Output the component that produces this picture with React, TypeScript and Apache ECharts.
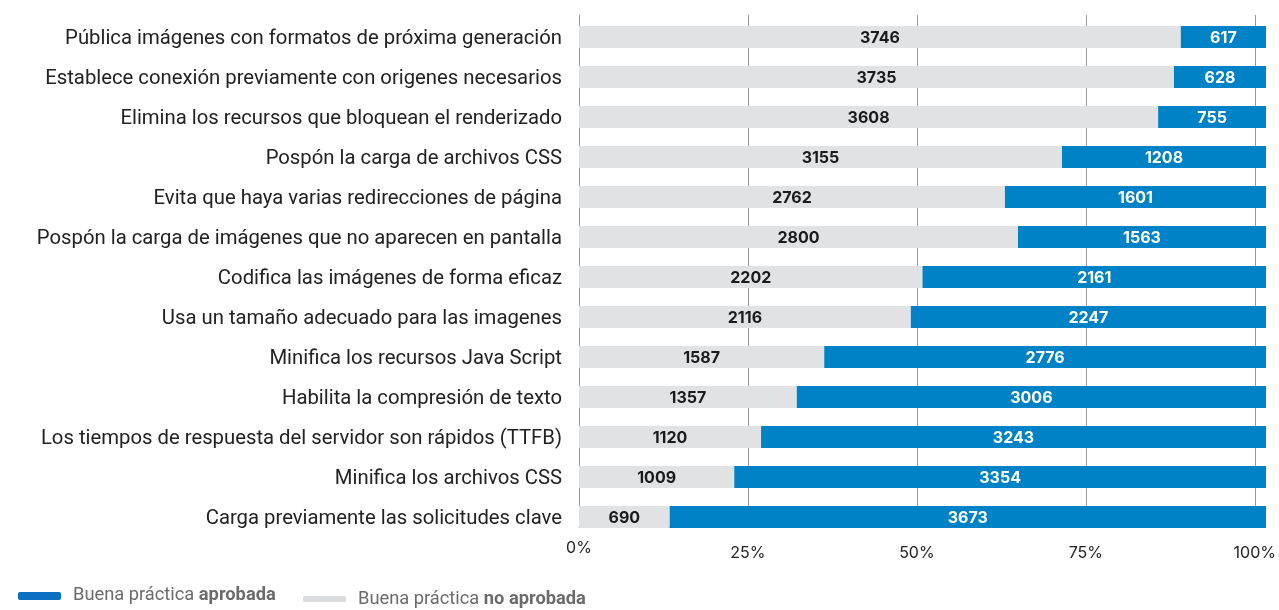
import React, { useEffect, useRef } from "react";
import * as echarts from "echarts";

const categories = [
  "Pública imágenes con formatos de próxima generación",
  "Establece conexión previamente con origenes necesarios",
  "Elimina los recursos que bloquean el renderizado",
  "Pospón la carga de archivos CSS",
  "Evita que haya varias redirecciones de página",
  "Pospón la carga de imágenes que no aparecen en pantalla",
  "Codifica las imágenes de forma eficaz",
  "Usa un tamaño adecuado para las imagenes",
  "Minifica los recursos Java Script",
  "Habilita la compresión de texto",
  "Los tiempos de respuesta del servidor son rápidos (TTFB)",
  "Minifica los archivos CSS",
  "Carga previamente las solicitudes clave",
];

// counts shown as labels
const noAprobada = [3746, 3735, 3608, 3155, 2762, 2800, 2202, 2116, 1587, 1357, 1120, 1009, 690];
const aprobada = [617, 628, 755, 1208, 1601, 1563, 2161, 2247, 2776, 3006, 3243, 3354, 3673];

// bar share (%) of "no aprobada", as drawn in the reference picture
const noAprobadaShare = [87.6, 86.6, 84.3, 70.3, 62.0, 63.9, 50.0, 48.3, 35.7, 31.7, 26.5, 22.6, 13.2];

const tickLabels = ["0%", "25%", "50%", "75%", "100%"];

const BLUE = "#0082C6";
const GREY = "#E1E2E4";
const GRID = "#9B9B9B";

export default function App() {
  const ref = useRef<HTMLDivElement>(null);

  useEffect(() => {
    if (!ref.current) return;
    const chart = echarts.init(ref.current, null, { renderer: "svg" });
    const greyData = noAprobada.map((v, i) => ({ value: noAprobadaShare[i], raw: v }));
    const blueData = aprobada.map((v, i) => ({ value: 100 - noAprobadaShare[i], raw: v }));

    const valueFont = "Inter, Lato, sans-serif";
    const textFont = "Roboto, 'Noto Sans', sans-serif";

    const valueLabel = (color: string) => ({
      show: true,
      position: "inside",
      fontFamily: valueFont,
      fontWeight: "bold",
      fontSize: 16,
      color,
      formatter: (p: any) => String(p.data.raw),
    });

    const legendRich = {
      a: { fontFamily: textFont, fontSize: 18.3, color: "#6b6b6b" },
      b: { fontFamily: textFont, fontSize: 18.3, color: "#6b6b6b", fontWeight: "bold" },
    };

    chart.setOption({
      animation: false,
      grid: [
        { left: 579, right: 13, top: 17, height: 520, containLabel: false },
        { left: 579, right: 13, top: 15, height: 512, containLabel: false },
      ],
      xAxis: [
        {
          gridIndex: 0,
          type: "value",
          min: 0,
          max: 100,
          axisLabel: { show: false },
          axisLine: { show: false },
          axisTick: { show: false },
          splitLine: { show: false },
        },
        {
          gridIndex: 1,
          type: "value",
          min: 0,
          max: 100,
          interval: 25,
          axisLine: { show: true, lineStyle: { color: GRID, width: 1 } },
          axisTick: { show: false },
          splitLine: { show: true, lineStyle: { color: GRID, width: 1 } },
          axisLabel: {
            margin: 12,
            fontFamily: valueFont,
            fontSize: 16,
            color: "#222",
            formatter: (v: number) => {
              const idx = Math.round(v / 25);
              return idx === 0 ? "{z|" + tickLabels[idx] + "}" : "{n|" + tickLabels[idx] + "}";
            },
            rich: {
              z: { fontFamily: valueFont, fontSize: 16, color: "#222" },
              n: { fontFamily: valueFont, fontSize: 16, color: "#222", padding: [5, 0, 0, 0] },
            },
          },
        },
      ],
      yAxis: [
        {
          gridIndex: 0,
          type: "category",
          inverse: true,
          data: categories,
          axisLine: { show: false },
          axisTick: { show: false },
          axisLabel: {
            margin: 17,
            fontFamily: textFont,
            fontSize: 20.3,
            color: "#222",
          },
        },
        {
          gridIndex: 1,
          type: "value",
          min: 0,
          max: 1,
          axisLine: { show: true, lineStyle: { color: GRID, width: 1 } },
          axisTick: { show: false },
          axisLabel: { show: false },
          splitLine: { show: false },
        },
      ],
      legend: [
        {
          left: 18,
          top: 584,
          padding: 0,
          itemWidth: 43,
          itemHeight: 8,
          data: [{ name: "aprobada", itemStyle: { color: "#0A6FBE" } }],
          formatter: () => "{a|Buena práctica }{b|aprobada}",
          textStyle: { padding: [0, 0, 6, 7], rich: legendRich },
        },
        {
          left: 303,
          top: 588,
          padding: 0,
          itemWidth: 43,
          itemHeight: 6,
          data: [{ name: "no aprobada", itemStyle: { color: "#DBDCDE" } }],
          formatter: () => "{a|Buena práctica }{b|no aprobada}",
          textStyle: { padding: [0, 0, 4, 7], rich: legendRich },
        },
      ],
      series: [
        {
          name: "no aprobada",
          type: "bar",
          stack: "total",
          xAxisIndex: 0,
          yAxisIndex: 0,
          barWidth: 22,
          data: greyData,
          itemStyle: { color: GREY },
          label: valueLabel("#1a1a1a"),
        },
        {
          name: "aprobada",
          type: "bar",
          stack: "total",
          xAxisIndex: 0,
          yAxisIndex: 0,
          barWidth: 22,
          data: blueData,
          itemStyle: { color: BLUE },
          label: valueLabel("#ffffff"),
        },
      ],
    });
    return () => chart.dispose();
  }, []);

  return <div ref={ref} style={{ width: 1279, height: 610, position: "fixed", left: 0, top: 0 }} />;
}
